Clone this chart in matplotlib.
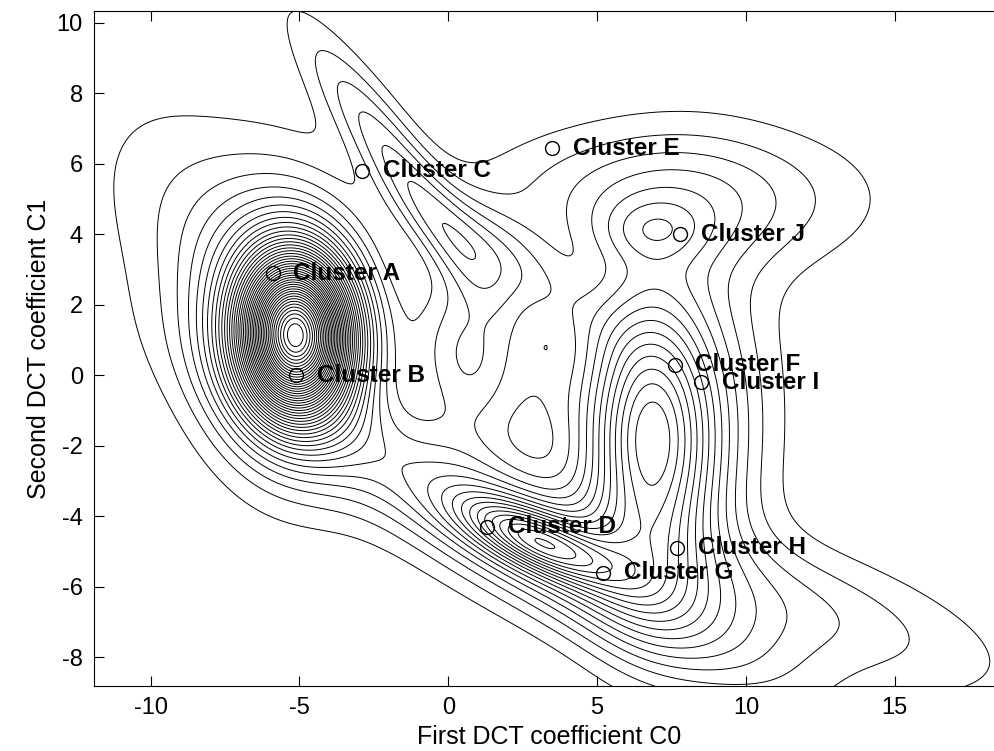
import numpy as np
import matplotlib
matplotlib.use("Agg")
import matplotlib.pyplot as plt

plt.rcParams['font.family'] = ['Liberation Sans', 'DejaVu Sans']
plt.rcParams['axes.unicode_minus'] = False

# cluster centres
cluster_names = ["A", "B", "C", "D", "E", "F", "G", "H", "I", "J"]
cluster_x = [-5.9, -5.1, -2.9, 1.3, 3.5, 7.6, 5.2, 7.7, 8.5, 7.8]
cluster_y = [2.9, 0.0, 5.8, -4.3, 6.45, 0.3, -5.6, -4.9, -0.2, 4.0]

# density bumps estimated from the contour shapes
#           A core A mid A wide ridge ridge2 bump  D    band band R sec  J wide  J   F/I  fill
bump_amp = [34, 9, 2.2, 4.5, 3.5, 5.0, 10, 7, 3, 13, 4.0, 2, 3, 1.3]
bump_x = [-5.1, -5.3, -7.5, -1.7, 1.8, 0.7, 3.0, 3.0, 11.0, 6.7, 7.5, 6.9, 8.5, 3.3]
bump_y = [1.15, 1.3, 3.5, 6.0, 3.3, 0.6, -4.7, -4.8, -6.3, -1.85, 5.0, 4.1, -1.0, -0.5]
bump_major = [1.5, 2.5, 3.6, 3.2, 2.5, 1.8, 1.8, 6.0, 5.0, 2.8, 4.0, 1.2, 3.5, 1.4]
bump_minor = [1.25, 1.9, 2.0, 0.65, 0.8, 1.3, 0.55, 1.2, 1.2, 1.5, 1.4, 0.6, 1.8, 1.0]
bump_angle = [95, 100, 135, -50, -30, 100, -20, -25, -15, 92, 0, 0, 90, 90]

n_levels = 60

xs = np.linspace(-12, 19, 400)
ys = np.linspace(-9, 10.5, 300)
X, Y = np.meshgrid(xs, ys)
Z = np.zeros_like(X)
for a, mx, my, s1, s2, ang in zip(bump_amp, bump_x, bump_y, bump_major, bump_minor, bump_angle):
    t = np.deg2rad(ang)
    u = (X - mx) * np.cos(t) + (Y - my) * np.sin(t)
    v = -(X - mx) * np.sin(t) + (Y - my) * np.cos(t)
    Z += a * np.exp(-0.5 * ((u / s1) ** 2 + (v / s2) ** 2))

fig = plt.figure(figsize=(9.95, 7.51), dpi=100)
ax = fig.add_axes([94 / 995, 65 / 751, 1 - 94 / 995 + 0.01, 675 / 751])

ax.contour(X, Y, Z, levels=np.arange(1, n_levels + 1), colors="k", linewidths=0.7)

ax.plot(cluster_x, cluster_y, "o", mfc="none", mec="k", ms=10, mew=1.0)
for name, cx, cy in zip(cluster_names, cluster_x, cluster_y):
    ax.text(cx + 0.7, cy, "Cluster " + name, fontsize=17.5, fontweight="bold", va="center")

ax.set_xlim(-11.9, 18.7)
ax.set_ylim(-8.82, 10.34)
ax.set_xticks([-10, -5, 0, 5, 10, 15])
ax.set_yticks([-8, -6, -4, -2, 0, 2, 4, 6, 8, 10])
ax.tick_params(direction="in", top=True, right=True, labelsize=17, length=7, pad=8)
ax.set_xlabel("First DCT coefficient C0", fontsize=18)
ax.set_ylabel("Second DCT coefficient C1", fontsize=18)

fig.savefig("out.png", dpi=100)
